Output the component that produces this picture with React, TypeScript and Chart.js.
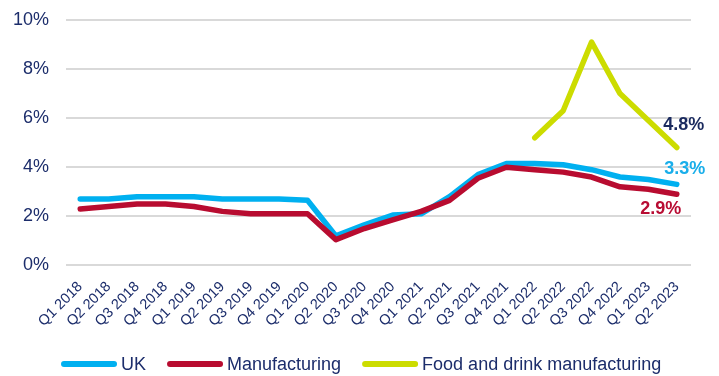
import React, { useEffect, useRef } from "react";
import { Chart, registerables } from "chart.js";

Chart.register(...registerables);

const categories = [
  "Q1 2018", "Q2 2018", "Q3 2018", "Q4 2018",
  "Q1 2019", "Q2 2019", "Q3 2019", "Q4 2019",
  "Q1 2020", "Q2 2020", "Q3 2020", "Q4 2020",
  "Q1 2021", "Q2 2021", "Q3 2021", "Q4 2021",
  "Q1 2022", "Q2 2022", "Q3 2022", "Q4 2022",
  "Q1 2023", "Q2 2023",
];

const ukValues = [2.7, 2.7, 2.8, 2.8, 2.8, 2.7, 2.7, 2.7, 2.65, 1.2, 1.65, 2.05, 2.1, 2.8, 3.7, 4.15, 4.15, 4.1, 3.9, 3.6, 3.5, 3.3];
const manufacturingValues = [2.3, 2.4, 2.5, 2.5, 2.4, 2.2, 2.1, 2.1, 2.1, 1.05, 1.5, 1.85, 2.2, 2.65, 3.55, 4.0, 3.9, 3.8, 3.6, 3.2, 3.1, 2.9];
const foodValues = [null, null, null, null, null, null, null, null, null, null, null, null, null, null, null, null, 5.2, 6.3, 9.1, 7.0, 5.9, 4.8];

const yTicks = [0, 2, 4, 6, 8, 10];

const seriesNames = ["UK", "Manufacturing", "Food and drink manufacturing"];
const seriesColors = ["#00b0f0", "#b80c30", "#ccdc00"];

const endLabels = [
  { text: "4.8%", dataset: 2, color: "#1a2a5e", dx: 7, dy: -23 },
  { text: "3.3%", dataset: 0, color: "#19aeea", dx: 8, dy: -15 },
  { text: "2.9%", dataset: 1, color: "#b80c33", dx: -16, dy: 15 },
];

const NAVY = "#1c2d6b";
const FONT = "'Liberation Sans', Arial, sans-serif";

const endLabelPlugin = {
  id: "endLabels",
  afterDatasetsDraw(chart: any) {
    const ctx = chart.ctx;
    ctx.save();
    ctx.font = `bold 18px ${FONT}`;
    ctx.textAlign = "center";
    ctx.textBaseline = "middle";
    for (const l of endLabels) {
      const meta = chart.getDatasetMeta(l.dataset);
      const pt = meta.data[meta.data.length - 1];
      ctx.fillStyle = l.color;
      ctx.fillText(l.text, pt.x + l.dx, pt.y + l.dy);
    }
    ctx.restore();
  },
};

const legendPlugin = {
  id: "customLegend",
  afterDraw(chart: any) {
    const ctx = chart.ctx;
    ctx.save();
    ctx.font = `18px ${FONT}`;
    ctx.textBaseline = "middle";
    ctx.textAlign = "left";
    const swW = 56, swH = 6, gapText = 4, gapItem = 21;
    const datasets = chart.data.datasets;
    const cy = 364;
    let x = chart.chartArea.left - 5;
    datasets.forEach((d: any) => {
      ctx.fillStyle = d.borderColor;
      ctx.beginPath();
      ctx.roundRect(x, cy - swH / 2, swW, swH, swH / 2);
      ctx.fill();
      x += swW + gapText;
      ctx.fillStyle = NAVY;
      ctx.fillText(d.label, x, cy + 1);
      x += ctx.measureText(d.label).width + gapItem;
    });
    ctx.restore();
  },
};

export default function App() {
  const ref = useRef<HTMLCanvasElement | null>(null);
  useEffect(() => {
    document.body.style.margin = "0";
    const mk = (i: number, data: any[], order: number) => ({
      label: seriesNames[i],
      data,
      borderColor: seriesColors[i],
      backgroundColor: seriesColors[i],
      borderWidth: 5.5,
      pointRadius: 0,
      tension: 0,
      borderCapStyle: "round",
      borderJoinStyle: "round",
      spanGaps: false,
      order,
    });
    const chart = new Chart(ref.current!, {
      type: "line",
      data: {
        labels: categories,
        datasets: [mk(0, ukValues, 2), mk(1, manufacturingValues, 1), mk(2, foodValues, 0)] as any,
      },
      options: {
        animation: false,
        responsive: false,
        maintainAspectRatio: false,
        layout: { padding: { left: 13, right: 28, top: 20, bottom: 33 } },
        scales: {
          x: {
            offset: true,
            grid: { display: false, drawTicks: false },
            border: { display: false },
            afterFit: (axis: any) => {
              axis.paddingLeft = 0;
              axis.paddingRight = 0;
            },
            ticks: {
              color: NAVY,
              font: { family: FONT, size: 14.5 },
              maxRotation: 45,
              minRotation: 45,
              autoSkip: false,
              padding: 13,
            },
          },
          y: {
            min: 0,
            max: 10,
            afterBuildTicks: (axis: any) => {
              axis.ticks = yTicks.map((v) => ({ value: v }));
            },
            afterFit: (axis: any) => {
              axis.paddingTop = 0;
              axis.paddingBottom = 0;
              axis.width -= 17;
            },
            grid: { color: "#d9d9d9", lineWidth: 2, drawTicks: false },
            border: { display: false },
            ticks: {
              color: NAVY,
              font: { family: FONT, size: 18 },
              padding: 17,
              callback: (v: any) => `${v}%`,
            },
          },
        },
        plugins: {
          legend: { display: false },
          tooltip: { enabled: false },
        },
      },
      plugins: [endLabelPlugin, legendPlugin],
    });
    return () => chart.destroy();
  }, []);
  return (
    <div style={{ position: "relative", width: 719, height: 376 }}>
      <canvas ref={ref} width={719} height={376} style={{ display: "block" }} />
    </div>
  );
}
